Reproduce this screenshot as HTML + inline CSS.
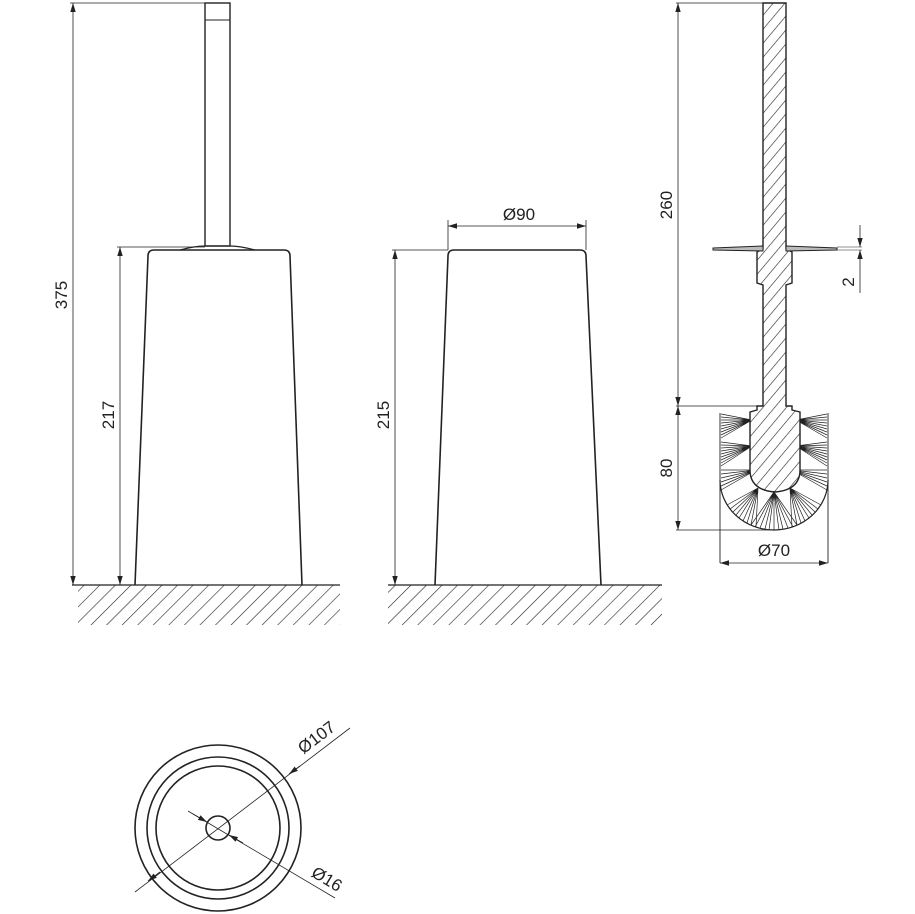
<!DOCTYPE html>
<html><head><meta charset="utf-8"><style>
html,body{margin:0;padding:0;background:#fff}
svg{display:block}
text{font-family:"Liberation Sans",sans-serif;font-size:17px;fill:#222}
</style></head><body>
<svg width="915" height="914" viewBox="0 0 915 914" xmlns="http://www.w3.org/2000/svg">
<defs>
<pattern id="gh" width="11" height="11" patternUnits="userSpaceOnUse" patternTransform="rotate(45)">
<line x1="0" y1="0" x2="0" y2="11" stroke="#222" stroke-width="1.2"/></pattern>
<pattern id="sh" width="9" height="9" patternUnits="userSpaceOnUse" patternTransform="rotate(40)">
<line x1="0" y1="0" x2="0" y2="9" stroke="#222" stroke-width="1.2"/></pattern>
<marker id="a" viewBox="0 0 10 10" refX="10" refY="5" markerWidth="9" markerHeight="9" orient="auto-start-reverse" markerUnits="userSpaceOnUse">
<path d="M0,2 L10,5 L0,8 z" fill="#222"/></marker>
</defs>
<g stroke="#222" fill="none">
<!-- LEFT VIEW -->
<line x1="72" y1="585" x2="340" y2="585" stroke-width="1.2"/>
<polygon points="78,585 340,585 340,625 78,625" fill="url(#gh)" stroke="none"/>
<path d="M135,585 L148,256 Q148,250 154,250 L284,250 Q290,250 290,256 L302,585" stroke-width="1.6"/>
<path d="M180,250 Q195,246 205,246 L230,246 Q240,246 255,250" stroke-width="1.2"/>
<rect x="205" y="3" width="25" height="243" stroke-width="1.4"/>
<line x1="205" y1="20" x2="230" y2="20" stroke-width="1"/>
<line x1="70" y1="3" x2="205" y2="3" stroke-width="0.8"/>
<line x1="73" y1="3" x2="73" y2="585" stroke-width="0.8" marker-start="url(#a)" marker-end="url(#a)"/>
<line x1="117" y1="247" x2="205" y2="247" stroke-width="0.8"/>
<line x1="120" y1="247" x2="120" y2="585" stroke-width="0.8" marker-start="url(#a)" marker-end="url(#a)"/>
<!-- MIDDLE VIEW -->
<line x1="388" y1="585" x2="662" y2="585" stroke-width="1.2"/>
<polygon points="388,585 662,585 662,625 388,625" fill="url(#gh)" stroke="none"/>
<path d="M435,585 L448,256 Q448,250 454,250 L580,250 Q586,250 586,256 L601,585" stroke-width="1.6"/>
<line x1="448" y1="220" x2="448" y2="250" stroke-width="0.8"/>
<line x1="586" y1="220" x2="586" y2="250" stroke-width="0.8"/>
<line x1="448" y1="226" x2="586" y2="226" stroke-width="0.8" marker-start="url(#a)" marker-end="url(#a)"/>
<line x1="392" y1="250" x2="448" y2="250" stroke-width="0.8"/>
<line x1="395" y1="250" x2="395" y2="585" stroke-width="0.8" marker-start="url(#a)" marker-end="url(#a)"/>
<!-- RIGHT VIEW -->
<line x1="720" y1="413" x2="720" y2="563" stroke-width="0.9"/>
<line x1="828" y1="413" x2="828" y2="563" stroke-width="0.9"/>
<path d="M720,480 A54,50 0 0 0 828,480" stroke-width="1.2"/>
<path stroke-width="0.7" d="
M752,420L721,414M752,420L721,417M752,420L721,420M752,420L721,423M752,420L721,426M752,420L721,429M752,420L721,432M752,420L721,435M752,420L721,438
M752,446L721,442M752,446L721,445M752,446L721,448M752,446L721,451M752,446L721,454M752,446L721,457M752,446L721,460M752,446L721,463M752,446L721,466
M756,470L721,470M756,470L721,474M756,470L721,478M756,470L721,482M756,470L721,486M756,470L721,490
M796,420L827,414M796,420L827,417M796,420L827,420M796,420L827,423M796,420L827,426M796,420L827,429M796,420L827,432M796,420L827,435M796,420L827,438
M796,446L827,442M796,446L827,445M796,446L827,448M796,446L827,451M796,446L827,454M796,446L827,457M796,446L827,460M796,446L827,463M796,446L827,466
M792,470L827,470M792,470L827,474M792,470L827,478M792,470L827,482M792,470L827,486M792,470L827,490
M758,488L727,505M758,488L730,509M758,488L733,512M758,488L736,515M758,488L739,518M758,488L743,521M758,488L747,523M758,488L751,525M758,488L756,527
M774,492L751,525M774,492L755,527M774,492L760,528M774,492L765,529M774,492L769,530M774,492L774,530M774,492L779,530M774,492L783,529M774,492L788,528M774,492L793,527M774,492L797,525
M790,488L792,527M790,488L797,525M790,488L801,523M790,488L805,521M790,488L809,518M790,488L812,515M790,488L815,512M790,488L818,509M790,488L821,505"/>
<path d="M763,3 L786,3 L786,249 L792,252 L792,283 L786,285 L786,406 L792,406 L792,410 L800,412 L800,470 Q800,490 775,492 Q750,490 750,470 L750,412 L757,410 L757,406 L763,406 L763,285 L757,283 L757,252 L763,249 Z" fill="#fff" stroke="none"/>
<path d="M763,3 L786,3 L786,249 L792,252 L792,283 L786,285 L786,406 L792,406 L792,410 L800,412 L800,470 Q800,490 775,492 Q750,490 750,470 L750,412 L757,410 L757,406 L763,406 L763,285 L757,283 L757,252 L763,249 Z" fill="url(#sh)" stroke-width="1.4"/>
<path d="M713,248 L763,246 L763,251 L713,250 Z" fill="#bbb" stroke-width="1"/>
<path d="M786,246 L837,248 L837,250 L786,251 Z" fill="#bbb" stroke-width="1"/>
<line x1="676" y1="3" x2="763" y2="3" stroke-width="0.8"/>
<line x1="678" y1="3" x2="678" y2="406" stroke-width="0.8" marker-start="url(#a)" marker-end="url(#a)"/>
<line x1="676" y1="406" x2="757" y2="406" stroke-width="0.8"/>
<line x1="678" y1="406" x2="678" y2="530" stroke-width="0.8" marker-start="url(#a)" marker-end="url(#a)"/>
<line x1="676" y1="530" x2="774" y2="530" stroke-width="0.8"/>
<line x1="720" y1="563" x2="828" y2="563" stroke-width="0.8" marker-start="url(#a)" marker-end="url(#a)"/>
<line x1="837" y1="247" x2="862" y2="247" stroke-width="0.6"/>
<line x1="837" y1="250" x2="862" y2="250" stroke-width="0.6"/>
<line x1="860" y1="225" x2="860" y2="247" stroke-width="0.8" marker-end="url(#a)"/>
<line x1="860" y1="293" x2="860" y2="250" stroke-width="0.8" marker-end="url(#a)"/>
<!-- BOTTOM VIEW -->
<circle cx="218" cy="828" r="83" stroke-width="1.6"/>
<circle cx="218" cy="828" r="71" stroke-width="1.6"/>
<circle cx="218" cy="828" r="62" stroke-width="1.6"/>
<circle cx="218" cy="828" r="12" stroke-width="1.6"/>
<line x1="135" y1="892" x2="350" y2="728" stroke-width="0.8"/>
<line x1="160" y1="872" x2="148" y2="881" stroke-width="0.8" marker-end="url(#a)"/>
<line x1="300" y1="766" x2="289" y2="774" stroke-width="0.8" marker-end="url(#a)"/>
<line x1="188" y1="811" x2="335" y2="898" stroke-width="0.8"/>
<line x1="193" y1="814" x2="207" y2="822" stroke-width="0.8" marker-end="url(#a)"/>
<line x1="243" y1="843" x2="229" y2="835" stroke-width="0.8" marker-end="url(#a)"/>
</g>
<text text-anchor="middle" transform="translate(67,295) rotate(-90)">375</text>
<text text-anchor="middle" transform="translate(114,415) rotate(-90)">217</text>
<text text-anchor="middle" transform="translate(389,415) rotate(-90)">215</text>
<text x="519" y="220" text-anchor="middle">Ø90</text>
<text text-anchor="middle" transform="translate(672,205) rotate(-90)">260</text>
<text text-anchor="middle" transform="translate(672,468) rotate(-90)">80</text>
<text text-anchor="middle" transform="translate(854,282) rotate(-90)">2</text>
<text x="774" y="556" text-anchor="middle">Ø70</text>
<text text-anchor="middle" transform="translate(320,742) rotate(-37)">Ø107</text>
<text text-anchor="middle" transform="translate(324,884) rotate(31)">Ø16</text>
</svg>
</body></html>
